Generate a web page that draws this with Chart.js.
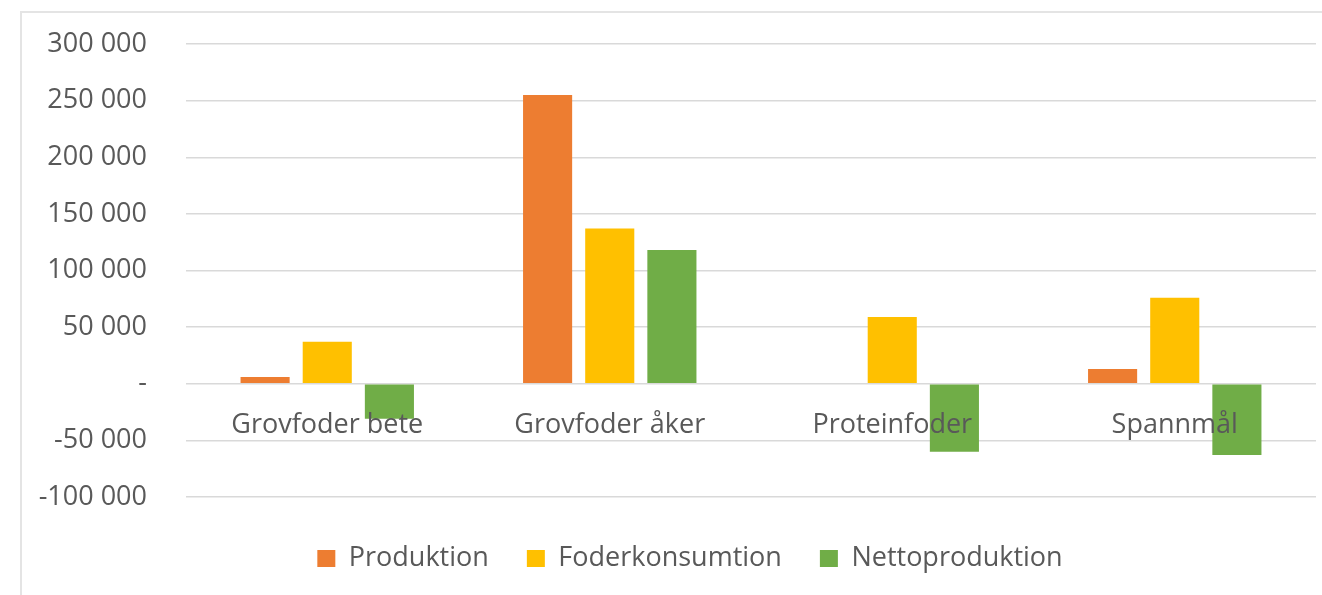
<!DOCTYPE html>
<html>
<head>
<meta charset="utf-8">
<script src="https://cdn.jsdelivr.net/npm/chart.js@4"></script>
<style>
    body { margin: 0; background: #fff; }
    .chart-frame {
        position: absolute;
        left: 20px; top: 11px; right: 0; bottom: 0;
        border-left: 2px solid #e4e4e4;
        border-top: 2px solid #e4e4e4;
    }
</style>
</head>
<body>
<div class="chart-frame"><canvas id="feedChart"></canvas></div>
<script>
// Data
const categories = ['Grovfoder bete', 'Grovfoder åker', 'Proteinfoder', 'Spannmål'];
const produktion = [6000, 255000, 0, 13000];
const foderkonsumtion = [37000, 137000, 59000, 76000];
const nettoproduktion = [-31000, 118000, -60000, -63000];
const yTicks = [-100000, -50000, 0, 50000, 100000, 150000, 200000, 250000, 300000];

const textColor = '#595959';
const fontFamily = '"Open Sans", sans-serif';

function formatTick(value) {
    if (value === 0) return '-';
    const s = String(Math.abs(value)).replace(/\B(?=(\d{3})+(?!\d))/g, ' ');
    return (value < 0 ? '-' : '') + s;
}

// legend in the original sits a little right of the canvas centre
const legendShift = {
    id: 'legendShift',
    afterLayout: function(chart) {
        chart.legend.left += 21;
        chart.legend.right += 21;
    }
};

document.addEventListener('DOMContentLoaded', function() {
    const ctx = document.getElementById('feedChart').getContext('2d');
    new Chart(ctx, {
        type: 'bar',
        data: {
            labels: categories,
            datasets: [
                { label: 'Produktion', data: produktion, backgroundColor: '#ED7D31' },
                { label: 'Foderkonsumtion', data: foderkonsumtion, backgroundColor: '#FFC000' },
                { label: 'Nettoproduktion', data: nettoproduktion, backgroundColor: '#70AD47' }
            ]
        },
        plugins: [legendShift],
        options: {
            responsive: true,
            maintainAspectRatio: false,
            animation: false,
            categoryPercentage: 0.66,
            barPercentage: 0.79,
            layout: { padding: { left: 0, right: 6, top: 31, bottom: 13 } },
            plugins: {
                tooltip: { enabled: false },
                legend: {
                    position: 'bottom',
                    // empty title only adds a bit of space above the items
                    title: { display: true, text: '', padding: 4.4, font: { size: 1 } },
                    labels: {
                        boxWidth: 18,
                        boxHeight: 17,
                        padding: 38,
                        color: textColor,
                        font: { family: fontFamily, size: 27 }
                    }
                }
            },
            scales: {
                x: {
                    position: { y: 0 },
                    afterFit: function(scale) {
                        scale.height = 0;
                    },
                    grid: { display: false },
                    border: { display: false },
                    ticks: {
                        z: 1, // category names sit on top of the bars
                        color: textColor,
                        padding: 17,
                        maxRotation: 0,
                        font: { family: fontFamily, size: 27 }
                    }
                },
                y: {
                    min: -100000,
                    max: 300000,
                    afterBuildTicks: function(scale) {
                        scale.ticks = yTicks.map(v => ({ value: v }));
                    },
                    afterFit: function(scale) {
                        scale.width = 164;
                        scale.paddingTop = 0;
                        scale.paddingBottom = 0;
                    },
                    grid: { color: '#d9d9d9', lineWidth: 1.5, drawTicks: false },
                    border: { display: false },
                    ticks: {
                        color: textColor,
                        padding: 39,
                        font: { family: fontFamily, size: 27 },
                        callback: function(value) { return formatTick(value); }
                    }
                }
            }
        }
    });
});
</script>
</body>
</html>
